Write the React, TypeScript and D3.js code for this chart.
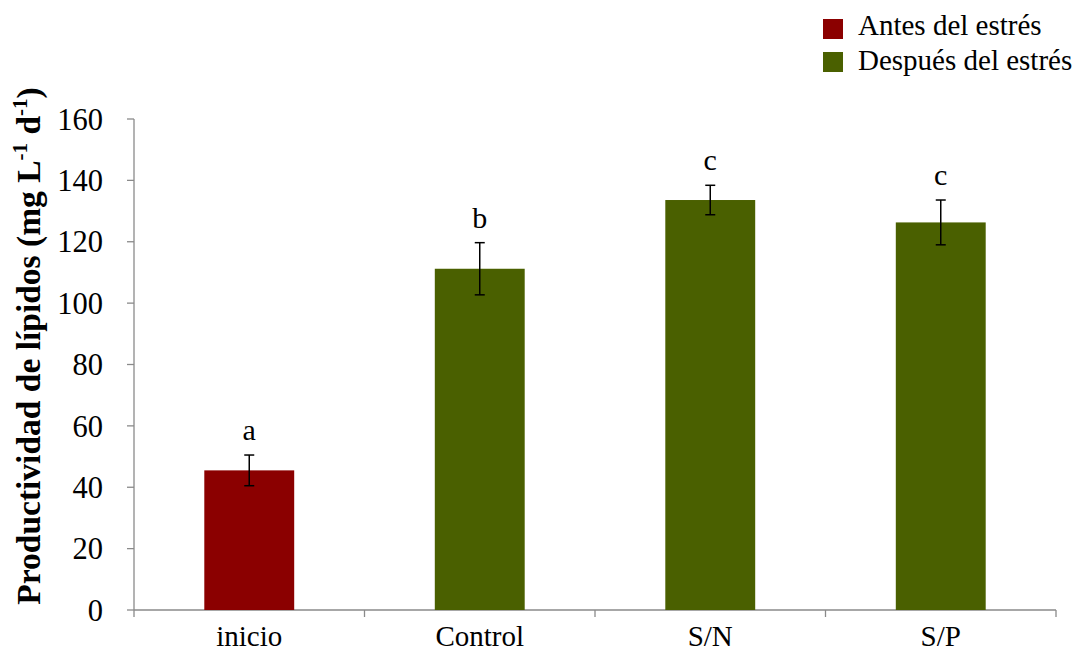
import React from "react";
import * as d3 from "d3";

const categories = ["inicio", "Control", "S/N", "S/P"];
const values = [45.5, 111.2, 133.6, 126.3];
const errors = [5, 8.5, 4.8, 7.3];
const letters = ["a", "b", "c", "c"];
const groups = ["Antes del estrés", "Después del estrés", "Después del estrés", "Después del estrés"];
const legendItems = ["Antes del estrés", "Después del estrés"];
const legendColors = ["#8B0000", "#4A6000"];
const yTicks = [0, 20, 40, 60, 80, 100, 120, 140, 160];

export default function App() {
  const W = 1082, H = 652;
  const x0 = 134, x1 = 1056, yTop = 119, yBot = 610;
  const x = d3.scaleBand<string>().domain(categories).range([x0, x1]).paddingInner(0.61).paddingOuter(0.305);
  const y = d3.scaleLinear().domain([0, 160]).range([yBot, yTop]);
  const color = d3.scaleOrdinal<string, string>().domain(legendItems).range(legendColors);
  const step = (x1 - x0) / categories.length;
  const font = "'Liberation Serif', 'Times New Roman', serif";
  const axisColor = "#8a8a8a";
  return (
    <svg width={W} height={H} style={{ position: "absolute", left: 0, top: 0, background: "#fff" }} fontFamily={font}>
      {/* y axis */}
      <line x1={x0} x2={x0} y1={yTop} y2={yBot} stroke={axisColor} strokeWidth={1.3} />
      {yTicks.map((t) => (
        <g key={t}>
          <line x1={x0 - 7} x2={x0} y1={y(t)} y2={y(t)} stroke={axisColor} strokeWidth={1.3} />
          <text x={x0 - 31} y={y(t)} dy="0.35em" textAnchor="end" fontSize={30.5} fill="#000">{t}</text>
        </g>
      ))}
      {/* x axis */}
      <line x1={x0} x2={x1} y1={yBot} y2={yBot} stroke={axisColor} strokeWidth={1.3} />
      {d3.range(categories.length + 1).map((i) => (
        <line key={i} x1={x0 + i * step} x2={x0 + i * step} y1={yBot} y2={yBot + 7} stroke={axisColor} strokeWidth={1.3} />
      ))}
      {categories.map((c) => (
        <text key={c} x={x(c)! + x.bandwidth() / 2} y={646} textAnchor="middle" fontSize={29} fill="#000">{c}</text>
      ))}
      {/* bars */}
      {categories.map((c, i) => {
        const cx = x(c)! + x.bandwidth() / 2;
        const top = y(values[i] + errors[i]);
        const bot = y(values[i] - errors[i]);
        return (
          <g key={c}>
            <rect x={x(c)} y={y(values[i])} width={x.bandwidth()} height={yBot - y(values[i])} fill={color(groups[i])} />
            <line x1={cx} x2={cx} y1={top} y2={bot} stroke="#000" strokeWidth={1.5} />
            <line x1={cx - 5} x2={cx + 5} y1={top} y2={top} stroke="#000" strokeWidth={1.5} />
            <line x1={cx - 5} x2={cx + 5} y1={bot} y2={bot} stroke="#000" strokeWidth={1.5} />
            <text x={cx} y={top - 15} textAnchor="middle" fontSize={30} fill="#000">{letters[i]}</text>
          </g>
        );
      })}
      {/* y title */}
      <text transform={`translate(40, 346) rotate(-90)`} textAnchor="middle" fontSize={33.5} fontWeight="bold" fill="#000">
        Productividad de lípidos  (mg L<tspan fontSize={21} dy={-13}>-1</tspan><tspan dy={13}> d</tspan><tspan fontSize={21} dy={-13}>-1</tspan><tspan dy={13}>)</tspan>
      </text>
      {/* legend */}
      {legendItems.map((l, i) => (
        <g key={l}>
          <rect x={823} y={19 + i * 33} width={20} height={20} fill={legendColors[i]} />
          <text x={858} y={35 + i * 35} fontSize={29} fill="#000">{l}</text>
        </g>
      ))}
    </svg>
  );
}
